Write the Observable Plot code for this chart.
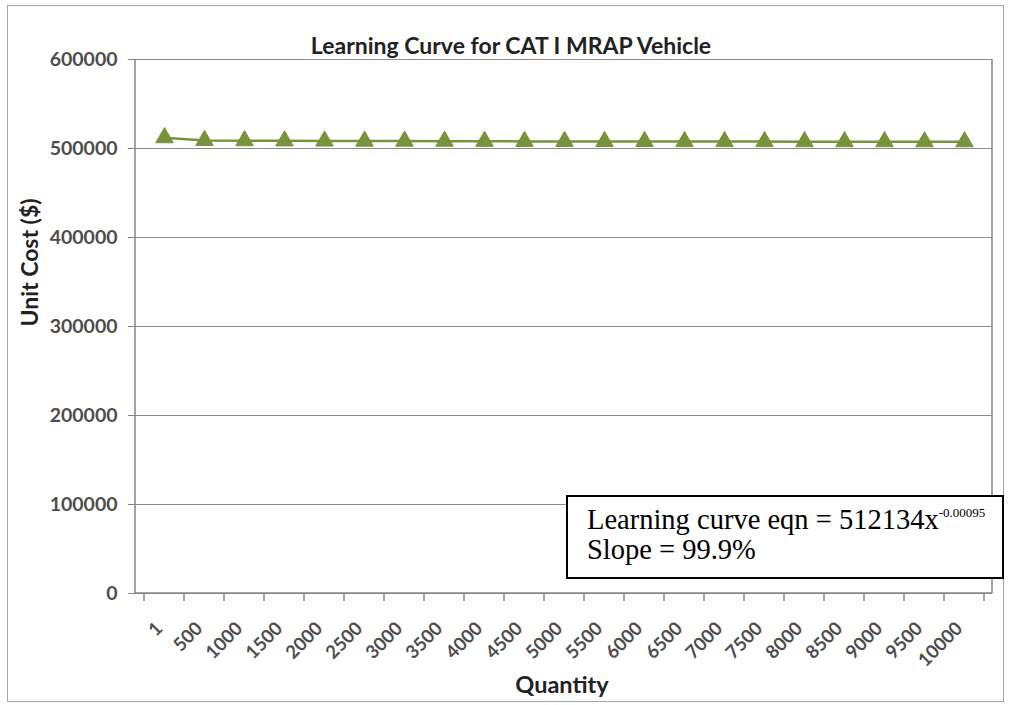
<!DOCTYPE html>
<html>
<head>
<meta charset="utf-8">
<script src="https://cdn.jsdelivr.net/npm/d3@7"></script>
<script src="https://cdn.jsdelivr.net/npm/@observablehq/plot@0.6"></script>
<style>
  html, body { margin: 0; padding: 0; background: #fff; }
  #wrap { position: relative; width: 1011px; height: 705px; overflow: hidden; }
  #frame { position: absolute; left: 7px; top: 5px; width: 997px; height: 697px; border: 1.5px solid #a6a6a6; box-sizing: border-box; pointer-events: none; }
  #note { position: absolute; left: 566px; top: 495px; width: 438px; height: 84px; border: 2px solid #000; background: #fff; box-sizing: border-box;
          font-family: "Liberation Serif", "Times New Roman", serif; font-size: 28.5px; color: #000; padding: 8px 0 0 19px; line-height: 30px; white-space: nowrap; }
  #note sup { font-size: 13px; vertical-align: 12px; line-height: 0; }
</style>
</head>
<body>
<div id="wrap">
  <div id="chart"></div>
  <div id="frame"></div>
  <div id="note">Learning curve eqn = 512134x<sup>-0.00095</sup><br>Slope = 99.9%</div>
</div>
<script>
const quantities = ["1","500","1000","1500","2000","2500","3000","3500","4000","4500","5000","5500","6000","6500","7000","7500","8000","8500","9000","9500","10000"];
const unitCost = [512134,509100,508800,508600,508400,508300,508300,508200,508100,508000,508000,507900,507900,507800,507800,507800,507700,507700,507700,507600,507600];
const yTicks = [0,100000,200000,300000,400000,500000,600000];
const chartTitle = "Learning Curve for CAT I MRAP Vehicle";
const yTitle = "Unit Cost ($)";
const xTitle = "Quantity";

const data = quantities.map((q, i) => ({q, v: unitCost[i]}));
const green = "#77933c";
const axisGray = "#868686";
const font = "Lato, 'Open Sans', sans-serif";

// custom mark: plot-area side lines + x axis line with boundary ticks (between categories)
function axisLines(index, scales, values, dim) {
  const g = d3.create("svg:g");
  const x = scales.x;
  const y0 = dim.height - dim.marginBottom;
  const left = dim.marginLeft, right = dim.width - dim.marginRight;
  const step = x.step ? x.step() : (right - left) / quantities.length;
  g.append("line").attr("x1", left).attr("x2", left).attr("y1", dim.marginTop).attr("y2", y0 + 0.5)
    .attr("stroke", axisGray).attr("stroke-width", 1.5);
  g.append("line").attr("x1", right).attr("x2", right).attr("y1", dim.marginTop).attr("y2", y0 + 0.5)
    .attr("stroke", axisGray).attr("stroke-width", 1.5);
  g.append("line").attr("x1", left).attr("x2", right).attr("y1", y0).attr("y2", y0)
    .attr("stroke", axisGray).attr("stroke-width", 1.5);
  const bounds = quantities.map(q => x(q) - step / 2).concat([x(quantities[quantities.length - 1]) + step / 2]);
  for (const b of bounds) {
    g.append("line").attr("x1", b).attr("x2", b).attr("y1", y0).attr("y2", y0 + 8)
      .attr("stroke", axisGray).attr("stroke-width", 1.5);
  }
  return g.node();
}

const chart = Plot.plot({
  width: 1011,
  height: 705,
  marginLeft: 135,
  marginRight: 19,
  marginTop: 59,
  marginBottom: 112,
  style: {fontFamily: font, background: "transparent", overflow: "visible"},
  x: {type: "point", domain: quantities, padding: 0.5, label: null},
  y: {domain: [0, 600000], label: null},
  marks: [
    Plot.gridY(yTicks, {stroke: "#8c8c8c", strokeOpacity: 1, strokeWidth: 1.2}),
    axisLines,
    Plot.axisY(yTicks, {tickFormat: d3.format("d"), tickSize: 7, tickPadding: 11, stroke: axisGray,
      fontSize: 19.5, fontWeight: "bold", fill: "#4d4d4d", label: null}),
    Plot.axisX(quantities, {tickSize: 0, tickPadding: 32, dx: -5, tickRotate: -45, fontSize: 18.5, fontWeight: "bold",
      fill: "#4d4d4d", label: null}),
    Plot.line(data, {x: "q", y: "v", stroke: green, strokeWidth: 2.5}),
    Plot.dot(data, {x: "q", y: "v", symbol: "triangle", r: 6.5, fill: green, stroke: green, strokeWidth: 1}),
    Plot.text([chartTitle], {frameAnchor: "top", dy: -22, dx: -53, fontSize: 23, fontWeight: "bold", fill: "#222"}),
    Plot.text([yTitle], {frameAnchor: "left", dx: -105, rotate: -90, fontSize: 23, fontWeight: "bold", fill: "#222"}),
    Plot.text([xTitle], {frameAnchor: "bottom", dy: 99, dx: -2, fontSize: 23.5, fontWeight: "bold", fill: "#222"})
  ]
});
document.getElementById("chart").appendChild(chart);
</script>
</body>
</html>
